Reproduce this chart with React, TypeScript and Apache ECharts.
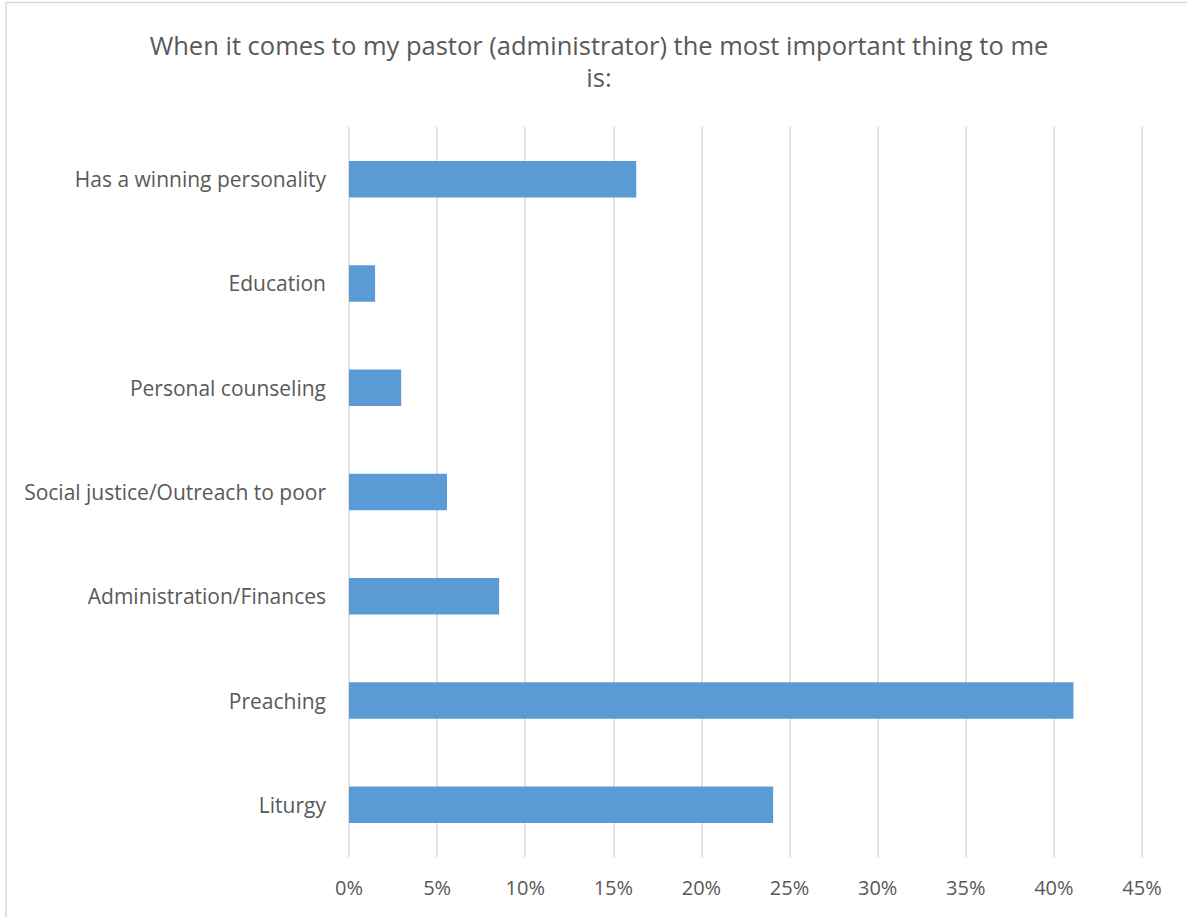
import React, { useEffect, useRef } from "react";
import * as echarts from "echarts";

const titleText =
  "When it comes to my pastor (administrator) the most important thing to me\nis:";
const categories = [
  "Has a winning personality",
  "Education",
  "Personal counseling",
  "Social justice/Outreach to poor",
  "Administration/Finances",
  "Preaching",
  "Liturgy",
];
const values = [16.3, 1.48, 2.96, 5.56, 8.52, 41.11, 24.07];
const axisMin = 0;
const axisMax = 45;
const axisStep = 5;

export default function App() {
  const ref = useRef<HTMLDivElement>(null);
  useEffect(() => {
    if (!ref.current) return;
    const chart = echarts.init(ref.current, undefined, { renderer: "svg" });
    const font = "'Open Sans', 'Noto Sans', sans-serif";
    chart.setOption({
      animation: false,
      backgroundColor: "#ffffff",
      textStyle: { fontFamily: font },
      title: {
        text: titleText,
        left: 594,
        top: 24,
        textAlign: "center",
        textStyle: {
          fontFamily: font,
          fontSize: 25.5,
          fontWeight: "normal",
          color: "#595959",
          lineHeight: 32,
        },
      },
      graphic: [
        {
          type: "polyline",
          shape: {
            points: [
              [6, 917],
              [6, 2.5],
              [1187, 2.5],
            ],
          },
          style: { stroke: "#d9d9d9", lineWidth: 1.5, fill: "none" },
          silent: true,
        },
      ],
      grid: { left: 349, right: 45, top: 127, bottom: 60, containLabel: false },
      xAxis: {
        type: "value",
        min: axisMin,
        max: axisMax,
        interval: axisStep,
        axisLine: { show: false },
        axisTick: { show: false },
        splitLine: { show: true, lineStyle: { color: "#d9d9d9", width: 1.5 } },
        axisLabel: {
          formatter: (v: number) => `${v}%`,
          color: "#595959",
          fontSize: 20,
          margin: 20,
          fontFamily: font,
        },
      },
      yAxis: {
        type: "category",
        inverse: true,
        data: categories,
        axisLine: { show: false },
        axisTick: { show: false },
        splitLine: { show: false },
        axisLabel: {
          color: "#595959",
          fontSize: 21,
          margin: 23,
          fontFamily: font,
        },
      },
      series: [
        {
          type: "bar",
          data: values,
          barCategoryGap: "65%",
          itemStyle: { color: "#5b9bd5" },
        },
      ],
    });
    return () => chart.dispose();
  }, []);
  return (
    <div
      ref={ref}
      style={{ position: "fixed", left: 0, top: 0, width: 1187, height: 917 }}
    />
  );
}
